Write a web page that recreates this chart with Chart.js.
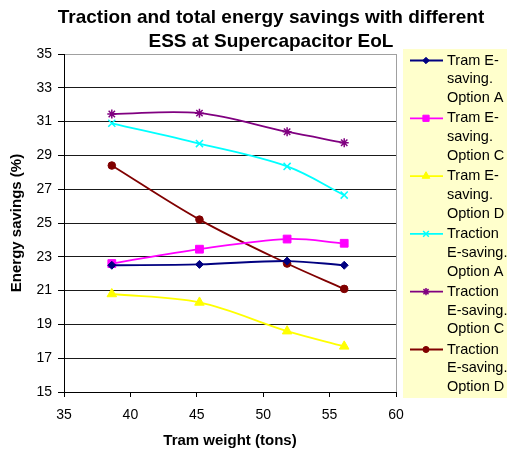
<!DOCTYPE html>
<html>
<head>
<meta charset="utf-8">
<script src="https://cdn.jsdelivr.net/npm/chart.js@4.4.1/dist/chart.umd.min.js"></script>
<style>
  html, body { margin: 0; padding: 0; background: #ffffff; }
  #wrap { width: 507px; height: 452px; }
</style>
</head>
<body>
<div id="wrap"><canvas id="chart" width="507" height="452"></canvas></div>
<script>
// Chart text
const titleLines = ['Traction and total energy savings with different', 'ESS at Supercapacitor EoL'];
const xAxisTitle = 'Tram weight (tons)';
const yAxisTitle = 'Energy savings (%)';

// Tram weights (tons) shared by every series
const tramWeights = [38.6, 45.2, 51.8, 56.1];

// Energy savings (%) per series
const tramOptionA      = [22.5, 22.55, 22.75, 22.5];
const tramOptionC      = [22.6, 23.45, 24.05, 23.8];
const tramOptionD      = [20.8, 20.3, 18.6, 17.7];
const tractionOptionA  = [30.9, 29.7, 28.35, 26.65];
const tractionOptionC  = [31.45, 31.5, 30.4, 29.75];
const tractionOptionD  = [28.4, 25.2, 22.6, 21.1];

// Legend entries (wrapped over three lines)
const seriesLabels = [
  ['Tram E-', 'saving.', 'Option A'],
  ['Tram E-', 'saving.', 'Option C'],
  ['Tram E-', 'saving.', 'Option D'],
  ['Traction', 'E-saving.', 'Option A'],
  ['Traction', 'E-saving.', 'Option C'],
  ['Traction', 'E-saving.', 'Option D']
];

// Axis ticks
const xTicks = [35, 40, 45, 50, 55, 60];
const yTicks = [15, 17, 19, 21, 23, 25, 27, 29, 31, 33, 35];

const FONT = '"Liberation Sans", Arial, Helvetica, sans-serif';

const seriesValues = [tramOptionA, tramOptionC, tramOptionD, tractionOptionA, tractionOptionC, tractionOptionD];
const seriesStyles = [
  { color: '#000080', pointStyle: 'rectRot',  radius: 4,   borderWidth: 1 },
  { color: '#FF00FF', pointStyle: 'rect',     radius: 5.5, borderWidth: 1 },
  { color: '#FFFF00', pointStyle: 'triangle', radius: 5.5, borderWidth: 1 },
  { color: '#00FFFF', pointStyle: 'crossRot', radius: 5,   borderWidth: 1.5 },
  { color: '#800080', pointStyle: 'star',     radius: 4.5, borderWidth: 1.5 },
  { color: '#800000', pointStyle: 'circle',   radius: 3.8, borderWidth: 1 }
];

const datasets = seriesValues.map((vals, i) => {
  const st = seriesStyles[i];
  return {
    label: seriesLabels[i].join(' '),
    data: tramWeights.map((x, k) => ({ x: x, y: vals[k] })),
    borderColor: st.color,
    backgroundColor: st.color,
    borderWidth: 1.8,
    tension: 0.35,
    pointStyle: st.pointStyle,
    pointRadius: st.radius,
    pointBorderWidth: st.borderWidth,
    pointBackgroundColor: st.color,
    pointBorderColor: st.color,
    clip: false
  };
});

// Chart title, plot frame and the boxed legend on the right
const decorations = {
  id: 'decorations',
  beforeDatasetsDraw(chart) {
    const { ctx, chartArea } = chart;
    ctx.save();
    ctx.strokeStyle = '#a0a0a0';
    ctx.lineWidth = 1;
    ctx.beginPath();
    ctx.moveTo(Math.round(chartArea.right) + 0.5, chartArea.top);
    ctx.lineTo(Math.round(chartArea.right) + 0.5, chartArea.bottom);
    ctx.stroke();
    ctx.restore();
  },
  afterDraw(chart) {
    const { ctx, chartArea } = chart;
    ctx.save();

    // title
    ctx.fillStyle = '#000000';
    ctx.font = 'bold 19px ' + FONT;
    ctx.textAlign = 'center';
    ctx.textBaseline = 'alphabetic';
    ctx.fillText(titleLines[0], 271, 23);
    ctx.fillText(titleLines[1], 271, 47);

    // legend box
    const boxLeft = chartArea.right + 7;
    const boxTop = 49;
    ctx.fillStyle = '#FFFFCC';
    ctx.fillRect(boxLeft, boxTop, chart.width - boxLeft, 349);

    ctx.font = '14.5px ' + FONT;
    ctx.textAlign = 'left';
    ctx.textBaseline = 'middle';
    chart.data.datasets.forEach((ds, i) => {
      const st = seriesStyles[i];
      const y0 = 60.5 + i * 57.8;
      ctx.strokeStyle = st.color;
      ctx.lineWidth = 1.8;
      ctx.beginPath();
      ctx.moveTo(boxLeft + 7, y0);
      ctx.lineTo(boxLeft + 40, y0);
      ctx.stroke();
      ctx.fillStyle = st.color;
      ctx.lineWidth = st.borderWidth;
      Chart.helpers.drawPoint(ctx, {
        pointStyle: st.pointStyle,
        radius: st.radius * 0.8,
        rotation: 0,
        borderWidth: st.borderWidth
      }, boxLeft + 23, y0);
      ctx.fillStyle = '#000000';
      seriesLabels[i].forEach((line, k) => {
        ctx.fillText(line, boxLeft + 44, y0 + k * 18.8);
      });
    });
    ctx.restore();
  }
};

new Chart(document.getElementById('chart'), {
  type: 'line',
  data: { datasets: datasets },
  options: {
    responsive: false,
    animation: false,
    devicePixelRatio: 1,
    layout: { padding: { top: 54, right: 111, left: 0, bottom: 0 } },
    plugins: {
      legend: { display: false },
      title: { display: false },
      tooltip: { enabled: false }
    },
    scales: {
      x: {
        type: 'linear',
        min: 35,
        max: 60,
        afterBuildTicks: (scale) => { scale.ticks = xTicks.map(v => ({ value: v })); },
        afterFit: (scale) => { scale.height = 60; },
        ticks: { color: '#000000', font: { family: FONT, size: 14 }, padding: 10, maxRotation: 0 },
        grid: { drawOnChartArea: false, drawTicks: true, tickLength: 5, color: '#000000', tickColor: '#000000' },
        border: { display: true, color: '#000000', width: 1 },
        title: {
          display: true,
          text: xAxisTitle,
          color: '#000000',
          font: { family: FONT, size: 15, weight: 'bold' },
          padding: { top: 0, bottom: 2 }
        }
      },
      y: {
        type: 'linear',
        min: 15,
        max: 35,
        afterBuildTicks: (scale) => { scale.ticks = yTicks.map(v => ({ value: v })); },
        afterFit: (scale) => { scale.width = 64; },
        ticks: { color: '#000000', font: { family: FONT, size: 14 }, padding: 6 },
        grid: {
          drawTicks: true,
          tickLength: 6,
          color: (c) => (c.tick && c.tick.value === 35 ? '#a0a0a0' : '#1a1a1a'),
          tickColor: '#000000'
        },
        border: { display: true, color: '#000000', width: 1 },
        title: {
          display: true,
          text: yAxisTitle,
          color: '#000000',
          font: { family: FONT, size: 15, weight: 'bold' },
          padding: { top: 8, bottom: 0 }
        }
      }
    }
  },
  plugins: [decorations]
});
</script>
</body>
</html>
